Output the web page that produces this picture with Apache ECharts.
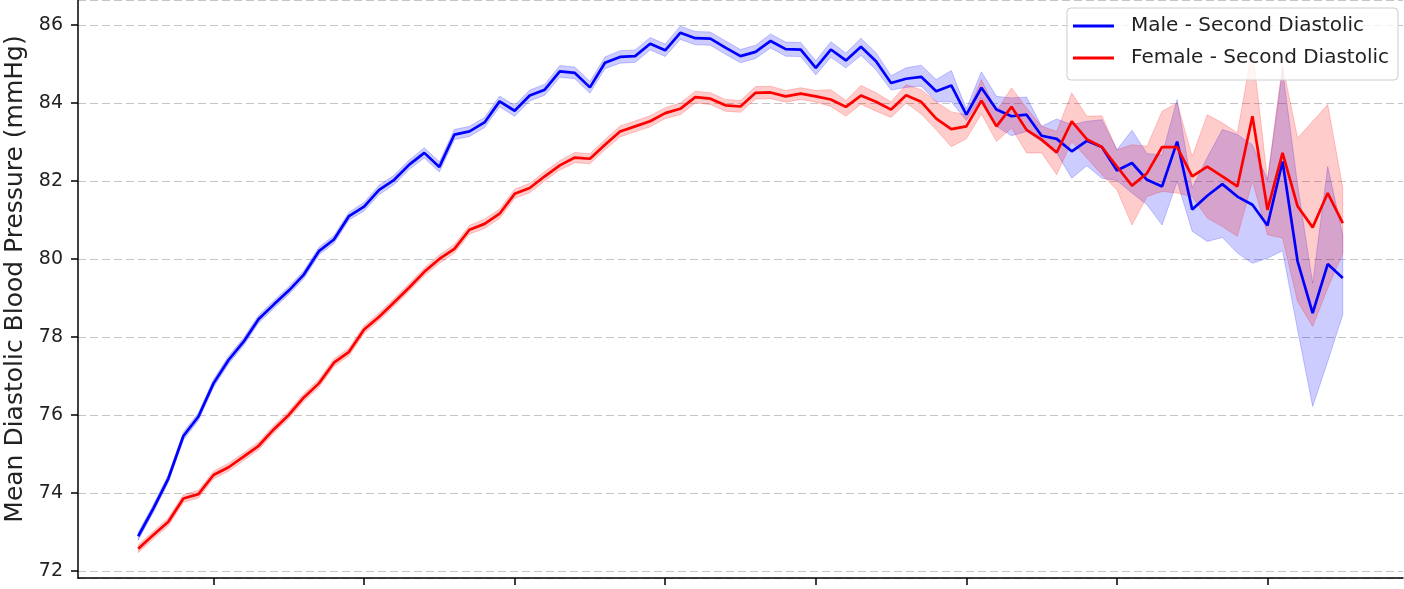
<!DOCTYPE html>
<html>
<head>
<meta charset="utf-8">
<script src="https://cdn.jsdelivr.net/npm/echarts@6/dist/echarts.min.js"></script>
<style>
  html, body { margin: 0; padding: 0; background: #fff; }
  #main { width: 1404px; height: 589px; }
</style>
</head>
<body>
<div id="main"></div>
<script>
// age (years)
var ages = [15, 16, 17, 18, 19, 20, 21, 22, 23, 24, 25, 26, 27, 28, 29, 30, 31, 32, 33, 34,
    35, 36, 37, 38, 39, 40, 41, 42, 43, 44, 45, 46, 47, 48, 49, 50, 51, 52, 53, 54,
    55, 56, 57, 58, 59, 60, 61, 62, 63, 64, 65, 66, 67, 68, 69, 70, 71, 72, 73, 74,
    75, 76, 77, 78, 79, 80, 81, 82, 83, 84, 85, 86, 87, 88, 89, 90, 91, 92, 93, 94, 95];
var ageTicks = [20, 30, 40, 50, 60, 70, 80, 90];

// male mean + CI
var maleMean = [72.89, 73.60, 74.37, 75.46, 75.96, 76.81, 77.41, 77.88, 78.46, 78.83,
    79.19, 79.60, 80.20, 80.50, 81.10, 81.34, 81.77, 82.03, 82.42, 82.72,
    82.36, 83.19, 83.27, 83.50, 84.04, 83.80, 84.19, 84.34, 84.81, 84.77,
    84.40, 85.03, 85.18, 85.20, 85.52, 85.35, 85.80, 85.66, 85.65, 85.42,
    85.20, 85.31, 85.59, 85.38, 85.37, 84.90, 85.37, 85.09, 85.44, 85.07,
    84.51, 84.62, 84.67, 84.30, 84.45, 83.70, 84.39, 83.83, 83.66, 83.70,
    83.16, 83.08, 82.76, 83.03, 82.87, 82.27, 82.46, 82.03, 81.86, 83.01,
    81.27, 81.62, 81.92, 81.60, 81.39, 80.86, 82.50, 79.94, 78.61, 79.87, 79.51];
var maleLow = [72.79, 73.50, 74.27, 75.36, 75.86, 76.71, 77.31, 77.78, 78.36, 78.73,
    79.09, 79.50, 80.10, 80.40, 81.00, 81.23, 81.65, 81.91, 82.30, 82.59,
    82.23, 83.06, 83.14, 83.37, 83.90, 83.66, 84.05, 84.20, 84.66, 84.62,
    84.25, 84.88, 85.02, 85.04, 85.36, 85.19, 85.63, 85.49, 85.48, 85.25,
    85.03, 85.14, 85.41, 85.20, 85.19, 84.72, 85.17, 84.90, 85.22, 84.85,
    84.33, 84.40, 84.43, 84.03, 84.03, 83.55, 84.13, 83.40, 83.16, 83.27,
    83.01, 82.72, 82.07, 82.39, 82.07, 82.01, 81.69, 81.39, 80.87, 81.99,
    80.71, 80.45, 80.55, 80.15, 79.89, 80.02, 80.21, 78.18, 76.22, 77.37, 78.57];
var maleHigh = [72.99, 73.70, 74.47, 75.56, 76.06, 76.91, 77.51, 77.98, 78.56, 78.93,
    79.29, 79.70, 80.30, 80.60, 81.20, 81.45, 81.89, 82.15, 82.54, 82.85,
    82.49, 83.32, 83.40, 83.63, 84.18, 83.94, 84.33, 84.48, 84.96, 84.92,
    84.55, 85.18, 85.34, 85.36, 85.68, 85.51, 85.97, 85.83, 85.82, 85.59,
    85.37, 85.48, 85.77, 85.56, 85.55, 85.08, 85.57, 85.28, 85.66, 85.29,
    84.70, 84.90, 84.97, 84.60, 84.83, 83.85, 84.80, 84.17, 84.13, 84.15,
    83.40, 83.59, 83.44, 83.53, 83.57, 82.80, 83.30, 82.70, 82.67, 84.09,
    81.82, 82.60, 83.32, 83.19, 82.93, 82.03, 84.85, 81.90, 79.38, 82.37, 80.62];

// female mean + CI
var femaleMean = [72.57, 72.92, 73.26, 73.86, 73.97, 74.46, 74.66, 74.93, 75.21, 75.63,
    76.00, 76.45, 76.81, 77.34, 77.62, 78.19, 78.52, 78.89, 79.27, 79.67,
    80.00, 80.26, 80.75, 80.90, 81.16, 81.67, 81.82, 82.12, 82.40, 82.60,
    82.57, 82.93, 83.27, 83.40, 83.53, 83.74, 83.85, 84.15, 84.11, 83.94,
    83.91, 84.26, 84.27, 84.17, 84.24, 84.17, 84.09, 83.90, 84.19, 84.03,
    83.83, 84.20, 84.03, 83.60, 83.33, 83.40, 84.06, 83.40, 83.90, 83.31,
    83.06, 82.73, 83.53, 83.07, 82.87, 82.37, 81.88, 82.20, 82.87, 82.87,
    82.12, 82.37, 82.12, 81.86, 83.66, 81.26, 82.72, 81.35, 80.81, 81.69, 80.92];
var femaleLow = [72.47, 72.82, 73.16, 73.76, 73.87, 74.36, 74.56, 74.83, 75.11, 75.53,
    75.90, 76.35, 76.71, 77.24, 77.52, 78.09, 78.42, 78.79, 79.17, 79.57,
    79.89, 80.15, 80.64, 80.78, 81.04, 81.55, 81.70, 82.00, 82.28, 82.47,
    82.44, 82.80, 83.13, 83.26, 83.39, 83.60, 83.70, 84.00, 83.96, 83.79,
    83.76, 84.10, 84.11, 84.02, 84.09, 84.02, 83.91, 83.66, 83.97, 83.79,
    83.63, 84.00, 83.72, 83.31, 82.88, 83.08, 83.72, 83.01, 83.36, 82.72,
    82.72, 82.16, 83.01, 82.59, 82.16, 81.77, 80.87, 81.60, 81.73, 81.69,
    81.60, 81.05, 80.83, 80.58, 81.99, 80.62, 80.54, 78.91, 78.27, 79.25, 80.15];
var femaleHigh = [72.67, 73.02, 73.36, 73.96, 74.07, 74.56, 74.76, 75.03, 75.31, 75.73,
    76.10, 76.55, 76.91, 77.44, 77.72, 78.29, 78.62, 78.99, 79.37, 79.77,
    80.11, 80.37, 80.86, 81.02, 81.28, 81.79, 81.94, 82.24, 82.52, 82.73,
    82.70, 83.06, 83.41, 83.54, 83.67, 83.88, 84.00, 84.30, 84.26, 84.09,
    84.06, 84.42, 84.43, 84.32, 84.39, 84.32, 84.34, 84.06, 84.45, 84.26,
    84.03, 84.47, 84.34, 84.03, 83.77, 83.70, 84.60, 83.79, 84.39, 83.87,
    83.40, 83.27, 84.26, 83.66, 83.67, 82.80, 82.93, 82.89, 83.79, 84.00,
    82.63, 83.70, 83.49, 83.23, 85.40, 82.03, 84.98, 83.10, 83.53, 83.96, 81.82];

var names = ['Male - Second Diastolic', 'Female - Second Diastolic'];

function pairs(xs, ys) {
    var out = [];
    for (var i = 0; i < xs.length; i++) {
        out.push([xs[i], ys[i]]);
    }
    return out;
}

// CI band: one polygon through hi (left->right) and lo (right->left)
function band(id, lo, hi, fill) {
    return {
        name: id + '_band',
        type: 'custom',
        silent: true,
        data: pairs(ages, lo),
        encode: {x: 0, y: 1},
        renderItem: function (params, api) {
            if (params.dataIndex !== 0) return;
            var pts = [];
            for (var i = 0; i < ages.length; i++) {
                pts.push(api.coord([ages[i], hi[i]]));
            }
            for (var j = ages.length - 1; j >= 0; j--) {
                pts.push(api.coord([ages[j], lo[j]]));
            }
            return {
                type: 'polygon',
                shape: {points: pts},
                style: {fill: fill, stroke: fill, lineWidth: 1}
            };
        }
    };
}

var series = [
    band('m', maleLow, maleHigh, 'rgba(0,0,255,0.2)'),
    {
        name: names[0],
        type: 'line',
        data: pairs(ages, maleMean),
        symbol: 'none',
        color: '#0000ff',
        lineStyle: {width: 2.7, color: '#0000ff'}
    },
    band('f', femaleLow, femaleHigh, 'rgba(255,0,0,0.2)'),
    {
        name: names[1],
        type: 'line',
        data: pairs(ages, femaleMean),
        symbol: 'none',
        color: '#ff0000',
        lineStyle: {width: 2.7, color: '#ff0000'}
    }
];

var myChart = echarts.init(document.getElementById('main'), null, {renderer: 'canvas'});
var option = {
    animation: false,
    backgroundColor: '#fff',
    textStyle: {fontFamily: 'DejaVu Sans'},
    grid: {left: 78, right: 1, top: 0, bottom: 11, containLabel: false, outerBoundsMode: 'none'},
    legend: {
        data: names,
        orient: 'vertical',
        right: 6,
        top: 8,
        icon: 'rect',
        itemWidth: 41,
        itemHeight: 3,
        itemGap: 12,
        padding: [8, 9, 12, 6],
        backgroundColor: 'rgba(255,255,255,0.8)',
        borderColor: '#cccccc',
        borderWidth: 1,
        borderRadius: 4,
        textStyle: {fontSize: 20, color: '#222', fontFamily: 'DejaVu Sans', padding: [0, 0, 0, 12]}
    },
    xAxis: {
        type: 'value',
        min: 11,
        max: 99,
        splitNumber: 9,
        axisLine: {lineStyle: {color: '#000', width: 1.5}},
        axisTick: {show: true, length: 7, customValues: ageTicks, lineStyle: {color: '#000', width: 1.5}},
        axisLabel: {show: false},
        splitLine: {show: false}
    },
    yAxis: {
        type: 'value',
        min: 71.82,
        max: 86.64,
        splitNumber: 7,
        name: 'Mean Diastolic Blood Pressure (mmHg)',
        nameLocation: 'middle',
        nameRotate: 90,
        nameGap: 49,
        nameTextStyle: {fontSize: 25, color: '#222', fontFamily: 'DejaVu Sans', padding: [0, 0, 0, 20]},
        axisLine: {show: true, lineStyle: {color: '#000', width: 1.5}},
        axisTick: {show: true, length: 7, lineStyle: {color: '#000', width: 1.5}},
        axisLabel: {
            fontSize: 19,
            color: '#222',
            margin: 15,
            showMinLabel: false,
            showMaxLabel: false
        },
        splitLine: {show: true, lineStyle: {color: '#c4c4c4', width: 1.2, type: [8, 4]}}
    },
    series: series
};

myChart.setOption(option);
</script>
</body>
</html>
